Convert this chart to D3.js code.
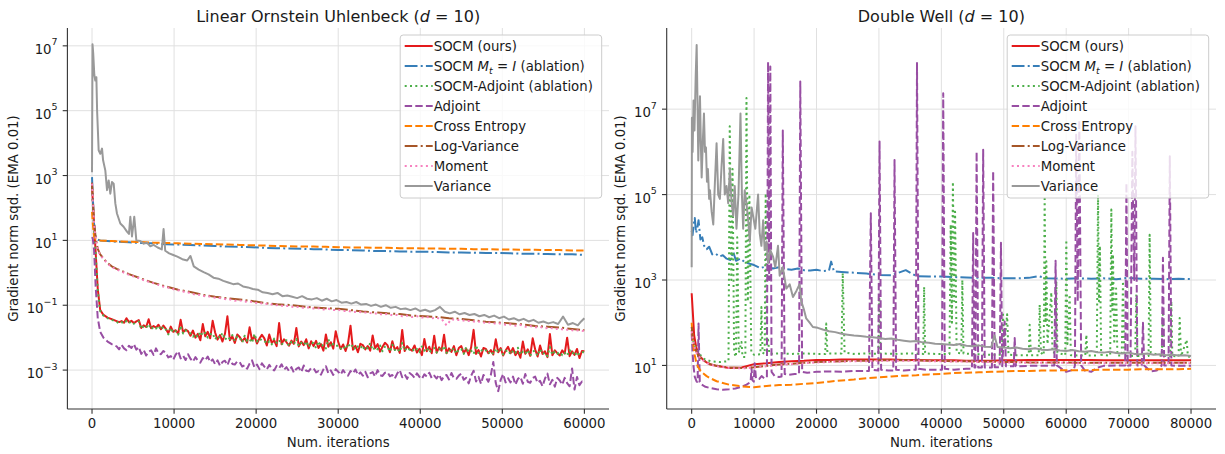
<!DOCTYPE html>
<html><head><meta charset="utf-8">
<script src="https://cdn.jsdelivr.net/npm/d3@7"></script>
<style>
body{margin:0;background:#fff}
svg{display:block}
text{font-family:"DejaVu Sans",sans-serif;fill:#1a1a1a}
</style></head>
<body><svg id="chart" width="1225" height="454"></svg>
<script>
// ---------------- DATA (values are log10 of gradient norm sqd.) ----------------
const methodNames = ["SOCM (ours)","SOCM M_t = I (ablation)","SOCM-Adjoint (ablation)","Adjoint","Cross Entropy","Log-Variance","Moment","Variance"];
const ouXTicks = [0,10000,20000,30000,40000,50000,60000];
const dwXTicks = [0,10000,20000,30000,40000,50000,60000,70000,80000];
const ouYTicks = [1e-3,1e-1,1e1,1e3,1e5,1e7];
const dwYTicks = [1e1,1e3,1e5,1e7];

// Linear Ornstein Uhlenbeck: sampling grids (iterations)
const ouDenseIters = [0,100,250,450,700,1000,1400,1900,2400].concat(d3.range(3000,60001,300));
const ouFineIters = [0,100,250,450,700,1000,1400,1900,2400].concat(d3.range(3000,60001,600));
const ouCoarseIters = [0,100,250,450,700,1000,1400,1900,2400].concat(d3.range(3000,60001,1500));

const ouSocm = [2.7,2.2,1.5,0.6,-0.5,-1.15,-1.3,-1.38,-1.43,
-1.49,-1.52,-1.49,-1.54,-1.40,-1.52,-1.48,-1.55,-1.50,-1.46,
-1.70,-1.62,-1.67,-1.43,-1.71,-1.64,-1.69,-1.60,-1.74,-1.63,
-1.73,-1.86,-1.66,-1.82,-1.77,-1.88,-1.45,-1.84,-1.75,-1.80,
-1.94,-1.78,-2.00,-1.88,-2.08,-1.58,-1.96,-1.82,-2.02,-1.48,
-1.84,-2.06,-1.92,-2.12,-1.88,-1.34,-2.08,-1.96,-2.16,-1.90,
-1.98,-2.11,-2.01,-2.15,-1.68,-2.08,-1.95,-2.18,-2.03,-1.91,
-2.02,-2.24,-1.90,-2.16,-2.08,-2.26,-1.55,-2.20,-2.05,-2.14,
-2.25,-2.09,-2.19,-1.70,-2.27,-2.12,-2.23,-2.05,-2.33,-2.11,
-2.26,-2.10,-2.32,-2.20,-2.40,-1.90,-2.28,-2.14,-2.34,-1.80,
-2.13,-2.35,-2.21,-2.41,-2.17,-1.63,-2.37,-2.25,-2.45,-2.19,
-2.23,-2.36,-2.26,-2.40,-1.93,-2.33,-2.20,-2.43,-2.28,-2.16,
-2.23,-2.45,-2.11,-2.37,-2.29,-2.47,-1.76,-2.41,-2.26,-2.35,
-2.40,-2.24,-2.46,-2.34,-2.54,-2.04,-2.42,-2.28,-2.48,-1.94,
-2.46,-2.30,-2.40,-1.91,-2.48,-2.33,-2.44,-2.26,-2.54,-2.32,
-2.26,-2.48,-2.34,-2.54,-2.30,-1.76,-2.50,-2.38,-2.58,-2.32,
-2.35,-2.48,-2.38,-2.52,-2.05,-2.45,-2.32,-2.55,-2.40,-2.28,
-2.48,-2.32,-2.54,-2.42,-2.62,-2.12,-2.50,-2.36,-2.56,-2.02,
-2.36,-2.58,-2.24,-2.50,-2.42,-2.60,-1.89,-2.54,-2.39,-2.48,
-2.55,-2.39,-2.49,-2.00,-2.57,-2.42,-2.53,-2.35,-2.63,-2.41,
-2.42];
const ouSocmAdjoint = [2.6,2.1,1.4,0.55,-0.55,-1.18,-1.32,-1.4,-1.45,
-1.51,-1.56,-1.52,-1.57,-1.48,-1.55,-1.50,-1.57,-1.53,-1.50,
-1.73,-1.64,-1.69,-1.58,-1.74,-1.67,-1.72,-1.63,-1.76,-1.66,
-1.75,-1.90,-1.69,-1.85,-1.80,-1.91,-1.63,-1.87,-1.77,-1.84,
-1.87,-1.97,-1.89,-1.99,-1.81,-1.94,-1.85,-2.00,-1.90,-1.86,
-2.06,-1.94,-2.01,-1.85,-2.07,-1.97,-2.04,-1.92,-2.10,-1.96,
-2.00,-2.15,-1.94,-2.10,-2.05,-2.16,-1.88,-2.12,-2.02,-2.09,
-2.09,-2.19,-2.11,-2.21,-2.03,-2.16,-2.07,-2.22,-2.12,-2.08,
-2.25,-2.13,-2.20,-2.04,-2.26,-2.16,-2.23,-2.11,-2.29,-2.15,
-2.17,-2.32,-2.11,-2.27,-2.22,-2.33,-2.05,-2.29,-2.19,-2.26,
-2.24,-2.34,-2.26,-2.36,-2.18,-2.31,-2.22,-2.37,-2.27,-2.23,
-2.38,-2.26,-2.33,-2.17,-2.39,-2.29,-2.36,-2.24,-2.42,-2.28,
-2.28,-2.43,-2.22,-2.38,-2.33,-2.44,-2.16,-2.40,-2.30,-2.37,
-2.33,-2.43,-2.35,-2.45,-2.27,-2.40,-2.31,-2.46,-2.36,-2.32,
-2.46,-2.34,-2.41,-2.25,-2.47,-2.37,-2.44,-2.32,-2.50,-2.36,
-2.35,-2.50,-2.29,-2.45,-2.40,-2.51,-2.23,-2.47,-2.37,-2.44,
-2.39,-2.49,-2.41,-2.51,-2.33,-2.46,-2.37,-2.52,-2.42,-2.38,
-2.52,-2.40,-2.47,-2.31,-2.53,-2.43,-2.50,-2.38,-2.56,-2.42,
-2.41,-2.56,-2.35,-2.51,-2.46,-2.57,-2.29,-2.53,-2.43,-2.50,
-2.44,-2.54,-2.46,-2.56,-2.38,-2.51,-2.42,-2.57,-2.47,-2.43,
-2.47];
const ouAdjoint = [1.1,1.05,0.7,-0.45,-1.4,-1.82,-2.0,-2.12,-2.2,
-2.27,-2.36,-2.22,-2.33,-2.39,-2.25,-2.32,-2.20,-2.37,-2.29,
-2.50,-2.38,-2.55,-2.43,-2.39,-2.53,-2.33,-2.49,-2.51,-2.41,
-2.48,-2.61,-2.57,-2.68,-2.52,-2.42,-2.64,-2.55,-2.69,-2.51,
-2.65,-2.74,-2.60,-2.71,-2.77,-2.63,-2.70,-2.58,-2.75,-2.67,
-2.82,-2.70,-2.87,-2.75,-2.71,-2.85,-2.65,-2.81,-2.83,-2.73,
-2.76,-2.89,-2.85,-2.96,-2.80,-2.70,-2.92,-2.83,-2.97,-2.79,
-2.89,-2.98,-2.84,-2.95,-3.01,-2.87,-2.94,-2.82,-2.99,-2.91,
-3.03,-2.91,-3.08,-2.96,-2.92,-3.06,-2.86,-3.02,-3.04,-2.94,
-2.94,-3.07,-3.03,-3.14,-2.98,-2.88,-3.10,-3.01,-3.15,-2.97,
-3.05,-3.14,-3.00,-3.11,-3.17,-3.03,-3.10,-2.98,-3.15,-3.07,
-3.17,-3.05,-3.22,-3.10,-3.06,-3.20,-3.00,-3.16,-3.18,-3.08,
-3.06,-3.19,-3.15,-3.26,-3.10,-3.00,-3.22,-3.13,-3.27,-3.09,
-3.15,-3.24,-3.10,-3.21,-3.27,-3.13,-3.20,-3.08,-3.25,-3.17,
-3.26,-3.14,-3.31,-3.19,-3.15,-3.29,-3.09,-3.25,-3.27,-3.17,
-3.11,-3.30,-3.24,-3.41,-3.17,-3.02,-3.35,-3.21,-3.42,-3.15,
-3.23,-3.36,-3.15,-2.75,-3.40,-3.65,-3.30,-3.12,-3.38,-3.25,
-3.38,-3.20,-3.45,-3.27,-3.21,-3.42,-3.12,-3.36,-3.39,-3.24,
-3.20,-3.39,-3.33,-3.50,-3.26,-3.11,-3.44,-3.30,-3.51,-3.24,
-3.32,-3.45,-3.24,-3.40,-3.50,-2.95,-3.60,-3.21,-3.47,-3.35,
-3.42];
const ouMoment = [2.75,2.2,1.5,1.05,0.72,0.55,0.42,0.28,0.18,
0.10,0.04,-0.03,-0.09,-0.13,-0.20,-0.25,-0.30,-0.34,-0.40,
-0.45,-0.47,-0.53,-0.55,-0.60,-0.62,-0.68,-0.68,-0.73,-0.73,
-0.77,-0.78,-0.81,-0.82,-0.86,-0.85,-0.89,-0.88,-0.93,-0.92,
-0.97,-0.95,-1.00,-0.99,-1.03,-1.02,-1.06,-1.05,-1.08,-1.07,
-1.10,-1.09,-1.13,-1.11,-1.15,-1.14,-1.18,-1.17,-1.21,-1.19,
-1.23,-1.22,-1.26,-1.25,-1.29,-1.27,-1.31,-1.30,-1.34,-1.32,
-1.36,-1.34,-1.38,-1.36,-1.40,-1.39,-1.42,-1.62,-1.43,-1.46,
-1.45,-1.49,-1.48,-1.52,-1.50,-1.55,-1.53,-1.57,-1.56,-1.60,
-1.59,-1.63,-1.61,-1.66,-1.64,-1.68,-1.67,-1.71,-1.69,-1.74,
-1.72,-1.76,-1.75,-1.79,-1.77,-1.80];
const ouSocmIdentity = [2.95,2.3,1.5,1.1,1.02,1.0,0.99,0.98,0.97,
0.96,0.94,0.92,0.91,0.88,0.87,0.86,0.84,0.83,0.81,
0.80,0.79,0.77,0.76,0.75,0.74,0.73,0.72,0.70,0.70,
0.69,0.67,0.67,0.66,0.65,0.65,0.64,0.63,0.63,0.62,
0.61,0.61,0.60,0.59,0.59,0.58,0.57,0.57,0.55];
const ouCrossEntropy = [1.88,1.5,1.12,1.03,1.01,1.0,0.99,0.99,0.98,
0.97,0.96,0.95,0.93,0.92,0.91,0.90,0.89,0.88,0.87,
0.86,0.85,0.84,0.83,0.82,0.81,0.81,0.80,0.79,0.78,
0.78,0.77,0.77,0.76,0.76,0.75,0.75,0.74,0.74,0.73,
0.73,0.72,0.72,0.71,0.71,0.70,0.70,0.69,0.69];
const ouLogVariance = [2.78,2.25,1.55,1.08,0.74,0.57,0.44,0.3,0.2,
0.12,-0.04,-0.18,-0.31,-0.42,-0.52,-0.59,-0.68,-0.74,-0.79,
-0.82,-0.87,-0.93,-0.97,-0.99,-1.03,-1.07,-1.09,-1.11,-1.15,
-1.19,-1.22,-1.25,-1.27,-1.32,-1.34,-1.36,-1.40,-1.42,-1.46,
-1.51,-1.53,-1.56,-1.59,-1.64,-1.66,-1.69,-1.73,-1.77];
const ouVariance = [[0,3.1],[60,7.05],[150,6.75],[280,6.1],[400,5.93],[530,6.03],[620,5.0],[810,3.78],[1010,3.67],[1220,3.83],[1350,3.47],[1620,3.16],[1830,2.55],[2030,2.85],[2230,2.44],[2430,2.8],[2640,2.75],[2840,2.14],[3040,1.83],[3450,1.52],[3850,1.42],[4260,1.27],[4500,1.2],[4670,1.73],[4870,1.12],[5150,1.73],[5400,1.0],[5880,0.98],[6300,0.9],[6690,0.93],[7100,0.82],[7500,0.86],[8000,0.78],[8500,0.72],[8720,1.35],[8920,0.68],[9400,0.6],[9900,0.55],[10400,0.5],[11000,0.42],[11600,0.38],[12000,0.52],[12400,0.2],[13000,0.1],[13600,0.02],[14200,-0.05],[14800,-0.15],[15400,-0.18],[16000,-0.25],[16600,-0.3],[17200,-0.35],[17800,-0.33],[18400,-0.42],[19000,-0.45],[19600,-0.5],[20200,-0.52],[20800,-0.6],[21400,-0.62],[22000,-0.66],[22600,-0.62],[23200,-0.72],[23800,-0.7],[24400,-0.74],[25000,-0.78],[25600,-0.72],[26200,-0.8],[26800,-0.82],[27400,-0.78],[28000,-0.86],[28600,-0.8],[29200,-0.88],[29800,-0.84],[30400,-0.92],[31000,-0.9],[31600,-0.95],[32200,-0.9],[32800,-0.98],[33400,-0.96],[34000,-1.02],[34600,-0.98],[35200,-1.05],[35800,-1.0],[36400,-1.08],[37000,-1.05],[37600,-1.12],[38200,-1.1],[38800,-1.15],[39400,-1.1],[40000,-1.18],[40600,-1.14],[41200,-1.2],[41800,-1.15],[42400,-1.05],[43000,-1.2],[43600,-1.25],[44200,-1.2],[44800,-1.28],[45400,-1.24],[46000,-1.3],[46600,-1.27],[47200,-1.34],[47800,-1.3],[48400,-1.37],[49000,-1.32],[49600,-1.4],[50200,-1.35],[50800,-1.44],[51400,-1.4],[52000,-1.47],[52600,-1.42],[53200,-1.5],[53800,-1.45],[54400,-1.54],[55000,-1.5],[55600,-1.56],[56200,-1.52],[56800,-1.58],[57400,-1.35],[58000,-1.6],[58600,-1.55],[59200,-1.62],[59600,-1.5],[60000,-1.4]];

// Double Well
const dwCoarseIters = [0,200,400,700,1000,1400,1800,2400,3000].concat(d3.range(4000,80001,2000));
const dwSocm = [2.69,2.2,1.7,1.45,1.3,1.2,1.14,1.07,1.02,
0.99,0.94,0.95,1.03,1.05,1.08,1.10,1.11,1.13,1.13,
1.14,1.14,1.14,1.14,1.14,1.13,1.13,1.12,1.12,1.12,
1.11,1.11,1.11,1.12,1.12,1.13,1.13,1.13,1.13,1.13,
1.13,1.12,1.12,1.12,1.12,1.12,1.12,1.12,1.12];
const dwMoment = [1.8,1.6,1.45,1.32,1.24,1.17,1.12,1.06,1.02,
0.98,0.94,0.93,0.95,0.98,1.01,1.03,1.05,1.07,1.08,
1.09,1.10,1.10,1.11,1.11,1.11,1.11,1.10,1.10,1.09,
1.09,1.08,1.08,1.07,1.07,1.06,1.06,1.06,1.06,1.05,
1.05,1.05,1.05,1.05,1.05,1.05,1.05,1.05,1.05];
const dwLogVariance = [1.9,1.65,1.48,1.34,1.25,1.18,1.13,1.07,1.03,
0.99,0.95,0.94,0.96,0.99,1.02,1.04,1.06,1.08,1.09,
1.10,1.11,1.11,1.12,1.12,1.12,1.12,1.11,1.11,1.10,
1.10,1.09,1.09,1.08,1.08,1.07,1.07,1.07,1.07,1.06,
1.06,1.06,1.06,1.06,1.06,1.06,1.06,1.06,1.06];
const dwCrossEntropy = [2.0,1.6,1.3,1.1,0.97,0.88,0.82,0.75,0.70,
0.63,0.55,0.51,0.49,0.52,0.54,0.55,0.57,0.59,0.62,
0.65,0.67,0.70,0.72,0.74,0.76,0.77,0.79,0.80,0.82,
0.83,0.84,0.85,0.86,0.87,0.87,0.88,0.88,0.89,0.89,
0.89,0.90,0.90,0.90,0.91,0.91,0.91,0.91,0.92];
const dwSocmIdentity = [[0,4.15],[150,4.05],[300,4.3],[500,4.45],[700,4.1],[900,4.2],[1100,4.4],[1400,3.95],[1700,4.0],[2000,3.8],[2400,3.72],[2800,3.78],[3300,3.6],[3800,3.62],[4400,3.55],[5000,3.58],[5600,3.5],[6200,3.47],[6650,3.66],[7100,3.45],[7800,3.5],[8500,3.42],[9300,3.38],[10000,3.35],[11000,3.28],[12000,3.32],[13000,3.27],[14000,3.3],[15000,3.26],[16000,3.24],[17000,3.27],[18000,3.23],[19000,3.22],[20000,3.24],[21000,3.21],[22000,3.22],[22340,3.43],[22800,3.2],[24000,3.19],[26000,3.17],[28000,3.15],[30000,3.12],[32000,3.11],[34300,3.23],[36000,3.09],[38000,3.08],[40000,3.08],[42000,3.07],[44000,3.06],[46000,3.05],[48000,3.05],[50000,3.04],[52000,3.04],[54000,3.05],[55500,3.09],[57000,3.04],[60000,3.03],[62000,3.04],[64000,3.03],[66000,3.04],[68000,3.02],[70000,3.05],[72000,3.03],[74000,3.03],[76000,3.02],[78000,3.03],[80000,3.02]];
const dwVariance = [[0,3.3],[40,6.8],[150,6.0],[300,7.2],[450,6.5],[650,7.8],[800,8.5],[950,7.0],[1060,5.8],[1200,6.6],[1330,7.3],[1470,6.2],[1600,5.4],[1800,6.3],[1970,6.9],[2130,6.0],[2290,6.1],[2450,5.3],[2600,5.6],[2800,4.9],[2930,5.1],[3200,4.6],[3460,4.3],[3700,5.2],[3990,6.2],[4250,5.0],[4520,4.9],[4800,5.7],[5050,6.3],[5300,5.0],[5590,5.2],[5850,4.8],[6120,5.6],[6400,4.8],[6650,4.5],[6900,5.2],[7180,4.2],[7500,5.0],[7820,6.9],[8050,5.0],[8250,4.2],[8500,5.1],[8780,4.8],[9050,4.4],[9310,3.9],[9600,4.7],[9840,4.5],[10200,4.2],[10640,5.0],[10900,4.1],[11170,3.8],[11450,4.4],[11700,3.7],[12000,3.9],[12240,3.4],[12600,3.7],[13030,3.55],[13400,3.3],[13830,3.8],[14100,3.1],[14600,3.3],[15160,2.8],[15700,2.9],[16230,2.6],[16800,2.75],[17290,2.9],[17560,2.5],[18000,2.3],[18350,2.1],[18900,2.0],[19420,1.9],[20200,1.88],[21000,1.84],[22000,1.8],[23000,1.78],[24000,1.74],[25000,1.72],[26000,1.7],[27000,1.69],[28000,1.67],[29000,1.66],[30000,1.64],[31000,1.62],[32000,1.63],[33000,1.6],[34000,1.58],[35000,1.56],[36000,1.57],[37000,1.54],[38000,1.53],[39000,1.51],[40000,1.5],[41000,1.49],[42000,1.48],[43000,1.5],[44000,1.46],[45000,1.45],[46000,1.47],[47000,1.44],[48000,1.43],[48500,1.7],[49000,1.43],[50000,1.42],[51000,1.4],[52000,1.42],[53000,1.39],[54000,1.38],[55000,1.4],[56000,1.37],[57000,1.36],[58000,1.38],[59000,1.35],[60000,1.34],[61000,1.36],[62000,1.33],[63000,1.32],[64000,1.34],[65000,1.31],[66000,1.3],[67000,1.32],[68000,1.29],[69000,1.28],[70000,1.3],[71000,1.27],[72000,1.26],[73000,1.28],[74000,1.25],[75000,1.26],[76000,1.24],[77000,1.25],[78000,1.23],[79000,1.24],[80000,1.22]];
const dwSocmAdjoint = [[0,1.83],[200,1.6],[400,1.5],[700,1.4],[1000,1.35],[1500,1.22],[2000,1.15],[3000,1.1],[4500,1.08],[5900,1.1],[6100,6.6],[6350,3.0],[6550,5.6],[6800,1.3],[7100,1.2],[7300,4.0],[7550,1.3],[7980,1.55],[8150,1.2],[8600,1.2],[8780,7.26],[9000,2.5],[9250,5.0],[9550,1.3],[10000,1.25],[11000,1.26],[11170,2.37],[11350,1.3],[11700,1.27],[11860,5.03],[12050,1.5],[12240,1.6],[12450,1.27],[14000,1.28],[16000,1.27],[18000,1.28],[20000,1.27],[21400,1.27],[21550,1.98],[21750,1.28],[24000,1.28],[24200,3.16],[24350,2.2],[24500,1.3],[26000,1.27],[28000,1.28],[29900,1.27],[30060,2.6],[30250,1.28],[33000,1.27],[35000,1.28],[37100,1.27],[37240,2.84],[37400,1.28],[39000,1.27],[41300,1.27],[41500,4.3],[41700,2.0],[41850,5.3],[42050,2.5],[42200,4.6],[42450,1.3],[43200,1.28],[43360,3.0],[43550,1.28],[46000,1.26],[48000,1.25],[49700,1.25],[49880,2.19],[50050,1.4],[50540,2.2],[50750,1.25],[52000,1.24],[54000,1.24],[54150,1.95],[54350,1.24],[55600,1.24],[55750,2.42],[55950,1.3],[56400,1.24],[56550,4.96],[56700,2.0],[56820,3.44],[57000,1.5],[57620,2.71],[57800,1.3],[58250,1.3],[58420,2.97],[58600,1.3],[59850,1.24],[60020,3.94],[60200,1.5],[60550,2.66],[60750,1.24],[63050,1.23],[63230,1.72],[63400,1.23],[64900,1.23],[65100,5.0],[65250,2.5],[65400,3.8],[65600,1.25],[67050,1.23],[67230,4.65],[67400,2.3],[67500,3.6],[67700,1.5],[68000,2.8],[68200,1.23],[68900,1.23],[69100,2.97],[69300,1.23],[71050,1.22],[71240,2.66],[71400,1.22],[73200,1.22],[73370,4.06],[73550,1.3],[75300,1.22],[75500,2.19],[75700,1.22],[76650,1.22],[76840,2.5],[77000,1.22],[78000,1.21],[78180,2.11],[78400,1.21],[79300,1.6],[79500,1.21],[80000,1.2]];
const dwAdjoint = [[0,1.75],[150,1.3],[300,0.97],[500,0.73],[800,0.62],[950,0.62],[1100,1.98],[1300,0.62],[1600,0.55],[2200,0.5],[3000,0.47],[4000,0.44],[5000,0.43],[6000,0.44],[7000,0.46],[8000,0.5],[8800,0.55],[9300,0.6],[9450,0.62],[9580,0.95],[9750,0.65],[9950,0.62],[10100,1.05],[10300,0.7],[10800,0.68],[11200,0.75],[11600,0.7],[12050,0.72],[12240,8.1],[12420,3.0],[12600,8.0],[12800,0.85],[13300,0.75],[14000,0.73],[14400,0.74],[14600,6.5],[14900,0.8],[15500,0.78],[16500,0.8],[17200,0.8],[17400,7.65],[17700,0.85],[18500,0.83],[20000,0.85],[22000,0.86],[24000,0.85],[26000,0.87],[28400,0.87],[28700,4.56],[28950,0.9],[29900,0.88],[30100,6.24],[30350,0.9],[31500,0.88],[32300,0.88],[32500,5.81],[32750,0.9],[34000,0.88],[35900,0.9],[36100,8.08],[36350,0.92],[37500,0.9],[39000,0.9],[40100,0.9],[40300,7.37],[40550,0.92],[42000,0.9],[44000,0.92],[44900,0.92],[45100,4.1],[45300,0.95],[45450,0.95],[45650,6.0],[45900,0.95],[46500,0.95],[46700,6.05],[46950,0.95],[48100,0.95],[48300,5.55],[48550,0.96],[49350,0.96],[49550,3.87],[49750,0.98],[50140,2.03],[50350,0.98],[51600,0.98],[51750,1.64],[51950,0.98],[54000,0.99],[56000,0.99],[58100,1.0],[58300,3.45],[58500,1.0],[60000,0.85],[61200,0.9],[61400,1.0],[61600,6.4],[61850,2.5],[62100,6.75],[62400,1.0],[63000,0.88],[64000,0.85],[65000,0.95],[66000,0.99],[68000,1.0],[69450,1.0],[69650,5.27],[69850,1.0],[70300,1.0],[70600,6.0],[70900,3.0],[71100,6.6],[71400,1.0],[72100,1.0],[72300,2.0],[72500,1.0],[73500,0.86],[74500,0.88],[75300,1.0],[75500,3.52],[75700,1.0],[76400,1.0],[76600,5.9],[76850,1.0],[78000,0.99],[80000,0.99]];

// ---------------- STYLE ----------------
const methodColors = ["#e41a1c","#377eb8","#4daf4a","#984ea3","#ff7f00","#a65628","#f781bf","#999999"];
const methodStyles = ["solid","dashdot","dotted","dashed","dashed","dashdot","dotted","solid"];
const LW = 2.0;
const dashFor = {solid:null, dashed:(3.7*LW)+","+(1.6*LW), dotted:(1*LW)+","+(1.65*LW), dashdot:(6.4*LW)+","+(1.6*LW)+","+(1*LW)+","+(1.6*LW)};
const legendParts = [
  [["SOCM (ours)"]],
  [["SOCM "],["M","i"],["t","sub"],[" = ","back"],["I","i"],[" (ablation)"]],
  [["SOCM-Adjoint (ablation)"]],
  [["Adjoint"]],
  [["Cross Entropy"]],
  [["Log-Variance"]],
  [["Moment"]],
  [["Variance"]]
];

function zip(xs, ls){ return ls.map((l,i)=>[xs[i], l]); }

const panels = [
  {title:[["Linear Ornstein Uhlenbeck ("],["d","i"],[" = 10)"]],
   left:67.4, right:609, xDom:[-3000,63000], yDom:[Math.pow(10,-4.2),Math.pow(10,7.55)],
   xTicks:ouXTicks, yTicks:ouYTicks, ylabelX:17.5,
   series:[zip(ouDenseIters,ouSocm), zip(ouCoarseIters,ouSocmIdentity), zip(ouDenseIters,ouSocmAdjoint),
           zip(ouDenseIters,ouAdjoint), zip(ouCoarseIters,ouCrossEntropy), zip(ouCoarseIters,ouLogVariance),
           zip(ouFineIters,ouMoment), ouVariance]},
  {title:[["Double Well ("],["d","i"],[" = 10)"]],
   left:666.7, right:1216, xDom:[-4000,84000], yDom:[Math.pow(10,-0.02),Math.pow(10,8.9)],
   xTicks:dwXTicks, yTicks:dwYTicks, ylabelX:625,
   series:[zip(dwCoarseIters,dwSocm), dwSocmIdentity, dwSocmAdjoint, dwAdjoint,
           zip(dwCoarseIters,dwCrossEntropy), zip(dwCoarseIters,dwLogVariance),
           zip(dwCoarseIters,dwMoment), dwVariance]}
];

const TOP = 28, BOTTOM = 409;
const svg = d3.select("#chart");
const FS = 13.3;

function rich(textSel, parts, size){
  let shift = 0;
  parts.forEach(p=>{
    const ts = textSel.append("tspan").text(p[0]);
    const st = p[1]||"";
    if (st==="i") ts.attr("font-style","italic");
    if (st==="sub"){ ts.attr("font-style","italic").attr("font-size", size*0.7).attr("dy", 3); shift = 3; }
    else if (shift){ ts.attr("dy", -shift); shift = 0; }
  });
}

panels.forEach((P, pi)=>{
  const x = d3.scaleLinear().domain(P.xDom).range([P.left, P.right]);
  const y = d3.scaleLog().domain(P.yDom).range([BOTTOM, TOP]);
  const g = svg.append("g");

  // grid
  g.append("g").selectAll("line").data(P.xTicks).join("line")
    .attr("x1", d=>x(d)).attr("x2", d=>x(d)).attr("y1", TOP).attr("y2", BOTTOM)
    .attr("stroke","#e0e0e0").attr("stroke-width",1);
  g.append("g").selectAll("line").data(P.yTicks).join("line")
    .attr("x1", P.left).attr("x2", P.right).attr("y1", d=>y(d)).attr("y2", d=>y(d))
    .attr("stroke","#e0e0e0").attr("stroke-width",1);

  // clip
  const cid = "clip"+pi;
  svg.append("clipPath").attr("id",cid).append("rect")
    .attr("x",P.left).attr("y",TOP).attr("width",P.right-P.left).attr("height",BOTTOM-TOP);

  const line = d3.line().x(d=>x(d[0])).y(d=>y(Math.pow(10,d[1])));
  const lg = g.append("g").attr("clip-path","url(#"+cid+")");
  P.series.forEach((s, mi)=>{
    lg.append("path").attr("d", line(s)).attr("fill","none")
      .attr("stroke", methodColors[mi]).attr("stroke-width", LW)
      .attr("stroke-linejoin","round")
      .attr("stroke-dasharray", dashFor[methodStyles[mi]]);
  });

  // spines
  g.append("line").attr("x1",P.left).attr("x2",P.left).attr("y1",TOP).attr("y2",BOTTOM)
    .attr("stroke","#333").attr("stroke-width",1.1);
  g.append("line").attr("x1",P.left).attr("x2",P.right).attr("y1",BOTTOM).attr("y2",BOTTOM)
    .attr("stroke","#333").attr("stroke-width",1.1);

  // x ticks
  const xt = g.append("g").selectAll("g").data(P.xTicks).join("g");
  xt.append("line").attr("x1",d=>x(d)).attr("x2",d=>x(d)).attr("y1",BOTTOM).attr("y2",BOTTOM+4.7)
    .attr("stroke","#333").attr("stroke-width",1.1);
  xt.append("text").attr("x",d=>x(d)).attr("y",428).attr("text-anchor","middle")
    .attr("font-size",FS).text(d=>d3.format("d")(d));

  // y ticks
  const yt = g.append("g").selectAll("g").data(P.yTicks).join("g");
  yt.append("line").attr("x1",P.left-4.7).attr("x2",P.left).attr("y1",d=>y(d)).attr("y2",d=>y(d))
    .attr("stroke","#333").attr("stroke-width",1.1);
  yt.each(function(d){
    const e = Math.round(Math.log10(d));
    const t = d3.select(this).append("text").attr("x",P.left-9.8).attr("y",y(d)+8)
      .attr("text-anchor","end").attr("font-size",FS);
    t.append("tspan").text("10");
    t.append("tspan").attr("dy",-8.5).attr("font-size",9.5).text(e<0 ? "\u2212"+Math.abs(e) : String(e));
  });

  // axis labels
  g.append("text").attr("x",(P.left+P.right)/2).attr("y",447).attr("text-anchor","middle")
    .attr("font-size",FS).text("Num. iterations");
  g.append("text").attr("transform","translate("+P.ylabelX+","+((TOP+BOTTOM)/2)+") rotate(-90)")
    .attr("text-anchor","middle").attr("font-size",FS).text("Gradient norm sqd. (EMA 0.01)");

  // title
  const tt = g.append("text").attr("x",(P.left+P.right)/2).attr("y",22).attr("text-anchor","middle")
    .attr("font-size",16);
  rich(tt, P.title, 16);

  // legend
  const LWd = 201.5, LH = 163;
  const lx = P.right - 7.3 - LWd, ly = 35;
  const leg = g.append("g");
  leg.append("rect").attr("x",lx).attr("y",ly).attr("width",LWd).attr("height",LH)
    .attr("rx",3).attr("fill","#fff").attr("fill-opacity",0.8)
    .attr("stroke","#cccccc").attr("stroke-width",1);
  methodNames.forEach((nm, mi)=>{
    const cy = 46 + 20*mi;
    leg.append("line").attr("x1",lx+4.5).attr("x2",lx+32.5).attr("y1",cy).attr("y2",cy)
      .attr("stroke",methodColors[mi]).attr("stroke-width",LW)
      .attr("stroke-dasharray",dashFor[methodStyles[mi]]);
    const t = leg.append("text").attr("x",lx+33.5).attr("y",cy+5).attr("font-size",FS);
    rich(t, legendParts[mi], FS);
  });
});
</script></body></html>
